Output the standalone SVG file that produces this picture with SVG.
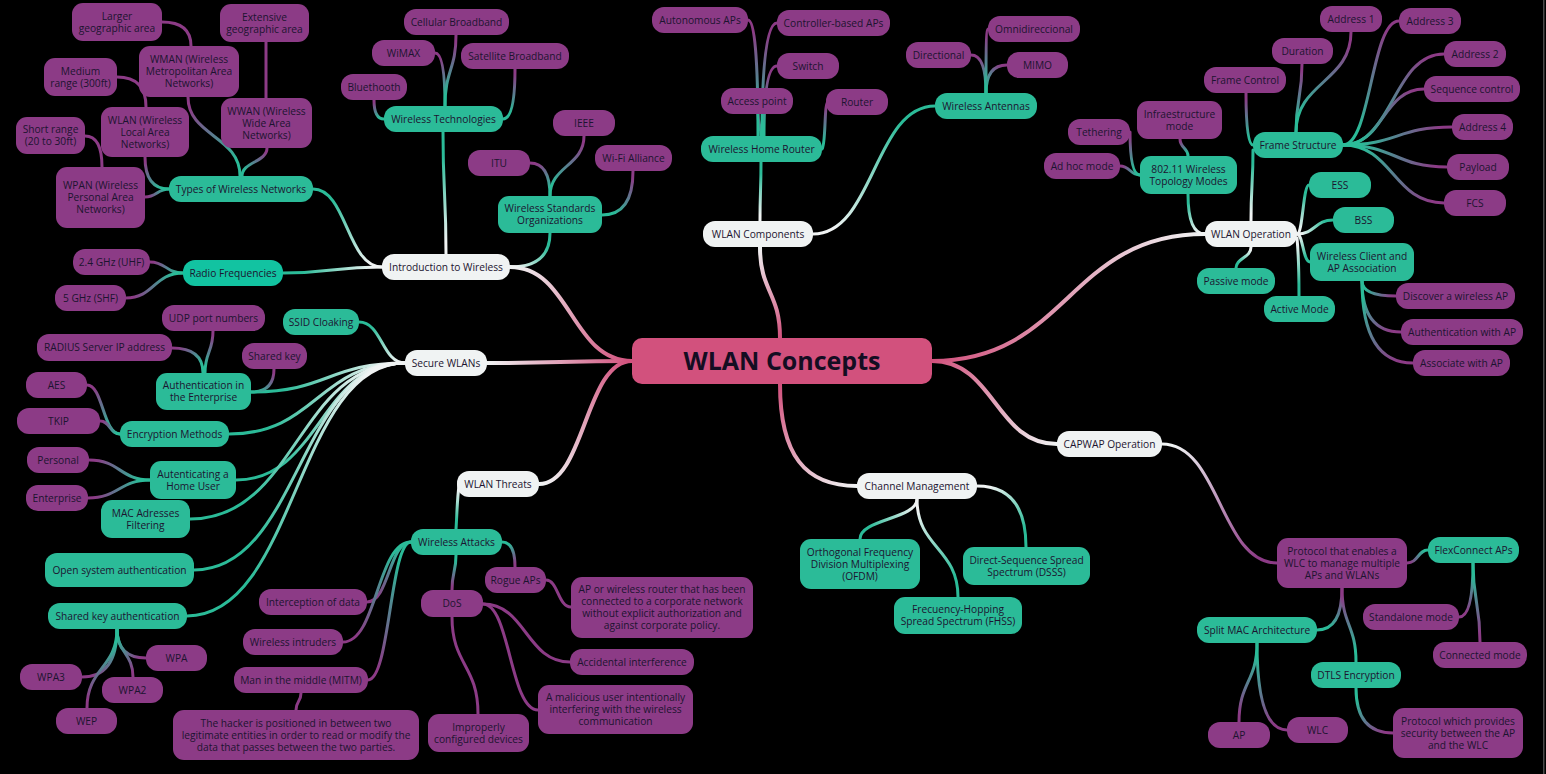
<svg xmlns="http://www.w3.org/2000/svg" width="1546" height="774" viewBox="0 0 1546 774">
<style>
#links path{fill:none;stroke-width:3;stroke-linecap:round}
#links path.m{stroke-width:4}
#links path.pp{stroke:#8c3b86}
.t rect{fill:#2bbb98}
.r rect{fill:#12c3a1}
.p rect{fill:#8c3b86}
.w rect{fill:#f0f3f3}
.c rect{fill:#d2517d}
text{font-family:"Open Sans","Noto Sans",sans-serif;font-size:10.2px;fill:#1c1430;text-anchor:middle}
.c text{font-size:25px;font-weight:bold;fill:#140d22}
</style>
<defs>
<linearGradient id="PW" gradientUnits="userSpaceOnUse"><stop offset="0" stop-color="#d2517d"/><stop offset="1" stop-color="#f0f3f3"/></linearGradient>
<linearGradient id="WT" gradientUnits="userSpaceOnUse"><stop offset="0.1" stop-color="#f0f3f3"/><stop offset="0.8" stop-color="#2bbb98"/></linearGradient>
<linearGradient id="WP" gradientUnits="userSpaceOnUse"><stop offset="0.05" stop-color="#f0f3f3"/><stop offset="0.9" stop-color="#8c3b86"/></linearGradient>
<linearGradient id="TP" gradientUnits="userSpaceOnUse"><stop offset="0.15" stop-color="#2bbb98"/><stop offset="0.9" stop-color="#8c3b86"/></linearGradient>
<linearGradient id="PT" gradientUnits="userSpaceOnUse"><stop offset="0.1" stop-color="#8c3b86"/><stop offset="0.85" stop-color="#2bbb98"/></linearGradient>
<linearGradient id="c1" href="#PW" x1="632" y1="361" x2="510" y2="267"/>
<linearGradient id="c2" href="#PW" x1="632" y1="361" x2="487" y2="363"/>
<linearGradient id="c3" href="#PW" x1="632" y1="361" x2="539" y2="484"/>
<linearGradient id="c4" href="#PW" x1="780" y1="338" x2="760" y2="247"/>
<linearGradient id="c5" href="#PW" x1="780" y1="384" x2="857" y2="486"/>
<linearGradient id="c6" href="#PW" x1="932" y1="361" x2="1205" y2="234"/>
<linearGradient id="c7" href="#PW" x1="932" y1="361" x2="1057" y2="444"/>
<linearGradient id="d1" href="#WT" x1="382" y1="267" x2="313" y2="189"/>
<linearGradient id="d2" href="#WT" x1="382" y1="267" x2="283" y2="273"/>
<linearGradient id="d3" href="#WT" x1="446" y1="254" x2="443" y2="132"/>
<linearGradient id="d4" href="#WT" x1="510" y1="267" x2="550" y2="233"/>
<linearGradient id="d5" href="#WT" x1="760" y1="221" x2="761" y2="162"/>
<linearGradient id="d6" href="#WT" x1="813" y1="234" x2="935" y2="106"/>
<linearGradient id="d7" href="#WT" x1="1205" y1="234" x2="1188" y2="194"/>
<linearGradient id="d8" href="#WT" x1="1251" y1="221" x2="1253" y2="150"/>
<linearGradient id="d9" href="#WT" x1="1297" y1="234" x2="1309" y2="185"/>
<linearGradient id="d10" href="#WT" x1="1297" y1="234" x2="1333" y2="220"/>
<linearGradient id="d11" href="#WT" x1="1297" y1="234" x2="1310" y2="262"/>
<linearGradient id="d12" href="#WT" x1="1251" y1="247" x2="1236" y2="268"/>
<linearGradient id="d13" href="#WT" x1="1297" y1="238" x2="1299" y2="296"/>
<linearGradient id="d14" href="#WT" x1="405" y1="363" x2="359" y2="322"/>
<linearGradient id="d15" href="#WT" x1="405" y1="363" x2="251" y2="392"/>
<linearGradient id="d16" href="#WT" x1="405" y1="363" x2="229" y2="434"/>
<linearGradient id="d17" href="#WT" x1="405" y1="363" x2="236" y2="480"/>
<linearGradient id="d18" href="#WT" x1="405" y1="363" x2="190" y2="519"/>
<linearGradient id="d19" href="#WT" x1="405" y1="363" x2="194" y2="570"/>
<linearGradient id="d20" href="#WT" x1="405" y1="363" x2="187" y2="616"/>
<linearGradient id="d21" href="#WT" x1="459" y1="486" x2="456" y2="529"/>
<linearGradient id="d22" href="#WT" x1="917" y1="499" x2="860" y2="539"/>
<linearGradient id="d23" href="#WT" x1="917" y1="499" x2="958" y2="597"/>
<linearGradient id="d24" href="#WT" x1="977" y1="486" x2="1026" y2="547"/>
<linearGradient id="e1" href="#WP" x1="1162" y1="444" x2="1277" y2="563"/>
<linearGradient id="f1" href="#PT" x1="1407" y1="563" x2="1428" y2="550"/>
<linearGradient id="f2" href="#PT" x1="1342" y1="588" x2="1317" y2="630"/>
<linearGradient id="f3" href="#PT" x1="1342" y1="588" x2="1356" y2="662"/>
<linearGradient id="g1" href="#TP" x1="169" y1="189" x2="145" y2="197"/>
<linearGradient id="g2" href="#TP" x1="169" y1="189" x2="145" y2="157"/>
<linearGradient id="g3" href="#TP" x1="240" y1="176" x2="188" y2="97"/>
<linearGradient id="g4" href="#TP" x1="242" y1="176" x2="267" y2="148"/>
<linearGradient id="g5" href="#TP" x1="183" y1="273" x2="150" y2="262"/>
<linearGradient id="g6" href="#TP" x1="183" y1="273" x2="126" y2="298"/>
<linearGradient id="g7" href="#TP" x1="384" y1="119" x2="374" y2="100"/>
<linearGradient id="g8" href="#TP" x1="445" y1="106" x2="435" y2="53"/>
<linearGradient id="g9" href="#TP" x1="445" y1="106" x2="456" y2="35"/>
<linearGradient id="g10" href="#TP" x1="503" y1="119" x2="515" y2="69"/>
<linearGradient id="g11" href="#TP" x1="550" y1="196" x2="530" y2="163"/>
<linearGradient id="g12" href="#TP" x1="550" y1="196" x2="584" y2="136"/>
<linearGradient id="g13" href="#TP" x1="602" y1="215" x2="633" y2="171"/>
<linearGradient id="g14" href="#TP" x1="761" y1="136" x2="758" y2="114"/>
<linearGradient id="g15" href="#TP" x1="758" y1="136" x2="748" y2="20"/>
<linearGradient id="g16" href="#TP" x1="762" y1="136" x2="777" y2="23"/>
<linearGradient id="g17" href="#TP" x1="764" y1="136" x2="777" y2="66"/>
<linearGradient id="g18" href="#TP" x1="822" y1="149" x2="828" y2="102"/>
<linearGradient id="g19" href="#TP" x1="986" y1="93" x2="971" y2="55"/>
<linearGradient id="g20" href="#TP" x1="986" y1="93" x2="988" y2="29"/>
<linearGradient id="g21" href="#TP" x1="986" y1="93" x2="1007" y2="65"/>
<linearGradient id="g22" href="#TP" x1="1188" y1="156" x2="1180" y2="139"/>
<linearGradient id="g23" href="#TP" x1="1140" y1="175" x2="1130" y2="132"/>
<linearGradient id="g24" href="#TP" x1="1140" y1="175" x2="1120" y2="166"/>
<linearGradient id="g25" href="#TP" x1="1253" y1="145" x2="1246" y2="93"/>
<linearGradient id="g26" href="#TP" x1="1296" y1="132" x2="1302" y2="64"/>
<linearGradient id="g27" href="#TP" x1="1296" y1="132" x2="1351" y2="32"/>
<linearGradient id="g28" href="#TP" x1="1343" y1="145" x2="1399" y2="21"/>
<linearGradient id="g29" href="#TP" x1="1343" y1="145" x2="1444" y2="54"/>
<linearGradient id="g30" href="#TP" x1="1343" y1="145" x2="1424" y2="89"/>
<linearGradient id="g31" href="#TP" x1="1343" y1="145" x2="1452" y2="127"/>
<linearGradient id="g32" href="#TP" x1="1343" y1="145" x2="1447" y2="167"/>
<linearGradient id="g33" href="#TP" x1="1343" y1="145" x2="1444" y2="203"/>
<linearGradient id="g34" href="#TP" x1="1362" y1="281" x2="1396" y2="296"/>
<linearGradient id="g35" href="#TP" x1="1362" y1="281" x2="1401" y2="332"/>
<linearGradient id="g36" href="#TP" x1="1362" y1="281" x2="1413" y2="363"/>
<linearGradient id="g37" href="#TP" x1="205" y1="373" x2="213" y2="331"/>
<linearGradient id="g38" href="#TP" x1="203" y1="373" x2="172" y2="348"/>
<linearGradient id="g39" href="#TP" x1="251" y1="392" x2="274" y2="369"/>
<linearGradient id="g40" href="#TP" x1="120" y1="434" x2="87" y2="385"/>
<linearGradient id="g41" href="#TP" x1="120" y1="434" x2="100" y2="421"/>
<linearGradient id="g42" href="#TP" x1="150" y1="480" x2="89" y2="460"/>
<linearGradient id="g43" href="#TP" x1="150" y1="480" x2="88" y2="498"/>
<linearGradient id="g44" href="#TP" x1="117" y1="629" x2="146" y2="658"/>
<linearGradient id="g45" href="#TP" x1="117" y1="629" x2="82" y2="677"/>
<linearGradient id="g46" href="#TP" x1="117" y1="629" x2="133" y2="677"/>
<linearGradient id="g47" href="#TP" x1="117" y1="629" x2="87" y2="708"/>
<linearGradient id="g48" href="#TP" x1="502" y1="542" x2="515" y2="567"/>
<linearGradient id="g49" href="#TP" x1="411" y1="542" x2="367" y2="602"/>
<linearGradient id="g50" href="#TP" x1="411" y1="542" x2="343" y2="642"/>
<linearGradient id="g51" href="#TP" x1="411" y1="542" x2="368" y2="680"/>
<linearGradient id="g52" href="#TP" x1="456" y1="555" x2="452" y2="590"/>
<linearGradient id="g53" href="#TP" x1="1473" y1="563" x2="1459" y2="617"/>
<linearGradient id="g54" href="#TP" x1="1473" y1="563" x2="1480" y2="642"/>
<linearGradient id="g55" href="#TP" x1="1257" y1="643" x2="1239" y2="722"/>
<linearGradient id="g56" href="#TP" x1="1257" y1="643" x2="1287" y2="730"/>
<linearGradient id="g57" href="#TP" x1="1356" y1="688" x2="1393" y2="733"/>
</defs>
<rect width="1546" height="774" fill="#000"/>
<rect x="1543" y="0" width="1.5" height="774" fill="#4a4a4a"/>
<g id="links">
<path class="m" stroke="url(#c1)" d="M632 361 C571 361 571 267 510 267"/>
<path class="m" stroke="url(#c2)" d="M632 361 C560 361 560 363 487 363"/>
<path class="m" stroke="url(#c3)" d="M632 361 C585 361 585 484 539 484"/>
<path class="m" stroke="url(#c4)" d="M780 338 C780 292 760 292 760 247"/>
<path class="m" stroke="url(#c5)" d="M780 384 C780 455 805 486 857 486"/>
<path class="m" stroke="url(#c6)" d="M932 361 C1068 361 1068 234 1205 234"/>
<path class="m" stroke="url(#c7)" d="M932 361 C995 361 995 444 1057 444"/>
<path stroke="url(#d1)" d="M382 267 C347 267 347 189 313 189"/>
<path stroke="url(#d2)" d="M382 267 C332 267 332 273 283 273"/>
<path stroke="url(#d3)" d="M446 254 C446 193 443 193 443 132"/>
<path stroke="url(#d4)" d="M510 267 Q550 267 550 233"/>
<path stroke="url(#d5)" d="M760 221 C760 191 761 191 761 162"/>
<path stroke="url(#d6)" d="M813 234 C874 234 874 106 935 106"/>
<path stroke="url(#d7)" d="M1205 234 Q1188 234 1188 194"/>
<path stroke="url(#d8)" d="M1251 221 C1251 185 1253 185 1253 150"/>
<path stroke="url(#d9)" d="M1297 234 C1303 234 1303 185 1309 185"/>
<path stroke="url(#d10)" d="M1297 234 C1315 234 1315 220 1333 220"/>
<path stroke="url(#d11)" d="M1297 234 C1303 234 1303 262 1310 262"/>
<path stroke="url(#d12)" d="M1251 247 C1251 258 1236 258 1236 268"/>
<path stroke="url(#d13)" d="M1297 238 C1299 260 1299 275 1299 296"/>
<path stroke="url(#d14)" d="M405 363 C382 363 382 322 359 322"/>
<path stroke="url(#d15)" d="M405 363 C328 363 328 392 251 392"/>
<path stroke="url(#d16)" d="M405 363 C317 363 317 434 229 434"/>
<path stroke="url(#d17)" d="M405 363 C320 363 320 480 236 480"/>
<path stroke="url(#d18)" d="M405 363 C297 363 297 519 190 519"/>
<path stroke="url(#d19)" d="M405 363 C299 363 299 570 194 570"/>
<path stroke="url(#d20)" d="M405 363 C296 363 296 616 187 616"/>
<path stroke="url(#d21)" d="M459 486 C457 500 457 515 456 529"/>
<path stroke="url(#d22)" d="M917 499 C917 519 860 519 860 539"/>
<path stroke="url(#d23)" d="M917 499 C917 548 958 548 958 597"/>
<path stroke="url(#d24)" d="M977 486 Q1026 486 1026 547"/>
<path stroke="url(#e1)" d="M1162 444 C1220 444 1220 563 1277 563"/>
<path stroke="url(#f1)" d="M1407 563 C1418 563 1418 550 1428 550"/>
<path stroke="url(#f2)" d="M1342 588 Q1342 630 1317 630"/>
<path stroke="url(#f3)" d="M1342 588 C1342 625 1356 625 1356 662"/>
<path stroke="url(#g1)" d="M169 189 C157 189 157 197 145 197"/>
<path stroke="url(#g2)" d="M169 189 Q145 189 145 157"/>
<path stroke="url(#g3)" d="M240 176 C240 136 188 136 188 97"/>
<path stroke="url(#g4)" d="M242 176 C242 162 267 162 267 148"/>
<path stroke="url(#g5)" d="M183 273 C166 273 166 262 150 262"/>
<path stroke="url(#g6)" d="M183 273 C154 273 154 298 126 298"/>
<path stroke="url(#g7)" d="M384 119 Q374 119 374 100"/>
<path stroke="url(#g8)" d="M445 106 Q445 53 435 53"/>
<path stroke="url(#g9)" d="M445 106 C445 70 456 70 456 35"/>
<path stroke="url(#g10)" d="M503 119 Q515 119 515 69"/>
<path stroke="url(#g11)" d="M550 196 Q550 163 530 163"/>
<path stroke="url(#g12)" d="M550 196 C550 166 584 166 584 136"/>
<path stroke="url(#g13)" d="M602 215 Q633 215 633 171"/>
<path stroke="url(#g14)" d="M761 136 C761 125 758 125 758 114"/>
<path stroke="url(#g15)" d="M758 136 Q758 20 748 20"/>
<path stroke="url(#g16)" d="M762 136 Q762 23 777 23"/>
<path stroke="url(#g17)" d="M764 136 Q764 66 777 66"/>
<path stroke="url(#g18)" d="M822 149 C826 145 824 102 828 102"/>
<path stroke="url(#g19)" d="M986 93 Q986 55 971 55"/>
<path stroke="url(#g20)" d="M986 93 C986 60 986 29 988 29"/>
<path stroke="url(#g21)" d="M986 93 Q986 65 1007 65"/>
<path stroke="url(#g22)" d="M1188 156 C1188 148 1180 148 1180 139"/>
<path stroke="url(#g23)" d="M1140 175 Q1130 175 1130 132"/>
<path stroke="url(#g24)" d="M1140 175 C1130 175 1130 166 1120 166"/>
<path stroke="url(#g25)" d="M1253 145 Q1246 145 1246 93"/>
<path stroke="url(#g26)" d="M1296 132 C1296 98 1302 98 1302 64"/>
<path stroke="url(#g27)" d="M1296 132 C1296 82 1351 82 1351 32"/>
<path stroke="url(#g28)" d="M1343 145 C1371 145 1371 21 1399 21"/>
<path stroke="url(#g29)" d="M1343 145 C1393 145 1393 54 1444 54"/>
<path stroke="url(#g30)" d="M1343 145 C1383 145 1383 89 1424 89"/>
<path stroke="url(#g31)" d="M1343 145 C1397 145 1397 127 1452 127"/>
<path stroke="url(#g32)" d="M1343 145 C1395 145 1395 167 1447 167"/>
<path stroke="url(#g33)" d="M1343 145 C1393 145 1393 203 1444 203"/>
<path stroke="url(#g34)" d="M1362 281 Q1362 296 1396 296"/>
<path stroke="url(#g35)" d="M1362 281 Q1362 332 1401 332"/>
<path stroke="url(#g36)" d="M1362 281 Q1362 363 1413 363"/>
<path stroke="url(#g37)" d="M205 373 C205 352 213 352 213 331"/>
<path stroke="url(#g38)" d="M203 373 Q203 348 172 348"/>
<path stroke="url(#g39)" d="M251 392 Q274 392 274 369"/>
<path stroke="url(#g40)" d="M120 434 C103 434 103 385 87 385"/>
<path stroke="url(#g41)" d="M120 434 C110 434 110 421 100 421"/>
<path stroke="url(#g42)" d="M150 480 C120 480 120 460 89 460"/>
<path stroke="url(#g43)" d="M150 480 C119 480 119 498 88 498"/>
<path stroke="url(#g44)" d="M117 629 Q117 658 146 658"/>
<path stroke="url(#g45)" d="M117 629 Q117 677 82 677"/>
<path stroke="url(#g46)" d="M117 629 C117 653 133 653 133 677"/>
<path stroke="url(#g47)" d="M117 629 C117 668 87 668 87 708"/>
<path stroke="url(#g48)" d="M502 542 Q515 542 515 567"/>
<path stroke="url(#g49)" d="M411 542 C389 542 389 602 367 602"/>
<path stroke="url(#g50)" d="M411 542 C377 542 377 642 343 642"/>
<path stroke="url(#g51)" d="M411 542 C390 542 390 680 368 680"/>
<path stroke="url(#g52)" d="M456 555 C456 572 452 572 452 590"/>
<path stroke="url(#g53)" d="M1473 563 Q1473 617 1459 617"/>
<path stroke="url(#g54)" d="M1473 563 C1473 602 1480 602 1480 642"/>
<path stroke="url(#g55)" d="M1257 643 C1257 682 1239 682 1239 722"/>
<path stroke="url(#g56)" d="M1257 643 Q1257 730 1287 730"/>
<path stroke="url(#g57)" d="M1356 688 Q1356 733 1393 733"/>
<path class="pp" d="M102 167 Q102 136 85 136"/>
<path class="pp" d="M146 107 Q146 77 117 77"/>
<path class="pp" d="M191 46 Q191 22 162 22"/>
<path class="pp" d="M266 98 L266 42"/>
<path class="pp" d="M546 580 C558 580 558 607 571 607"/>
<path class="pp" d="M483 604 C526 604 526 662 570 662"/>
<path class="pp" d="M483 604 C510 604 510 710 538 710"/>
<path class="pp" d="M452 617 C452 665 478 665 478 714"/>
<path class="pp" d="M301 693 C301 702 296 701 296 710"/>
</g>
<g id="n-center" class="c"><rect x="632" y="338" width="300" height="46" rx="10"/><text x="782" y="370">WLAN Concepts</text></g>
<g id="n-intro" class="w"><rect x="382" y="254" width="128" height="26" rx="12"/><text x="446" y="270.7">Introduction to Wireless</text></g>
<g id="n-components" class="w"><rect x="703" y="221" width="110" height="26" rx="12"/><text x="758" y="237.7">WLAN Components</text></g>
<g id="n-operation" class="w"><rect x="1205" y="221" width="92" height="26" rx="12"/><text x="1251" y="237.7">WLAN Operation</text></g>
<g id="n-secure" class="w"><rect x="405" y="350" width="82" height="26" rx="12"/><text x="446" y="366.7">Secure WLANs</text></g>
<g id="n-threats" class="w"><rect x="457" y="471" width="82" height="26" rx="12"/><text x="498" y="487.7">WLAN Threats</text></g>
<g id="n-channel" class="w"><rect x="857" y="473" width="120" height="26" rx="12"/><text x="917" y="489.7">Channel Management</text></g>
<g id="n-capwap" class="w"><rect x="1057" y="431" width="105" height="26" rx="12"/><text x="1109.5" y="447.7">CAPWAP Operation</text></g>
<g id="n-types" class="t"><rect x="169" y="176" width="144" height="26" rx="12"/><text x="241" y="192.7">Types of Wireless Networks</text></g>
<g id="n-radio" class="r"><rect x="183" y="260" width="100" height="26" rx="12"/><text x="233" y="276.7">Radio Frequencies</text></g>
<g id="n-wtech" class="t"><rect x="384" y="106" width="119" height="26" rx="12"/><text x="443.5" y="122.7">Wireless Technologies</text></g>
<g id="n-wso" class="t"><rect x="498" y="196" width="104" height="37" rx="11"/><text x="550" y="212.2">Wireless Standards<tspan x="550" dy="12">Organizations</tspan></text></g>
<g id="n-whr" class="t"><rect x="701" y="136" width="121" height="26" rx="12"/><text x="761.5" y="152.7">Wireless Home Router</text></g>
<g id="n-want" class="t"><rect x="935" y="93" width="102" height="26" rx="12"/><text x="986" y="109.7">Wireless Antennas</text></g>
<g id="n-80211" class="t"><rect x="1140" y="156" width="97" height="38" rx="11"/><text x="1188.5" y="172.7">802.11 Wireless<tspan x="1188.5" dy="12">Topology Modes</tspan></text></g>
<g id="n-fs" class="t"><rect x="1253" y="132" width="90" height="26" rx="12"/><text x="1298" y="148.7">Frame Structure</text></g>
<g id="n-ess" class="t"><rect x="1309" y="172" width="62" height="26" rx="12"/><text x="1340" y="188.7">ESS</text></g>
<g id="n-bss" class="t"><rect x="1333" y="207" width="61" height="26" rx="12"/><text x="1363.5" y="223.7">BSS</text></g>
<g id="n-wcaa" class="t"><rect x="1310" y="243" width="104" height="38" rx="11"/><text x="1362" y="259.7">Wireless Client and<tspan x="1362" dy="12">AP Association</tspan></text></g>
<g id="n-passive" class="t"><rect x="1197" y="268" width="78" height="26" rx="12"/><text x="1236" y="284.7">Passive mode</text></g>
<g id="n-active" class="t"><rect x="1264" y="296" width="71" height="26" rx="12"/><text x="1299.5" y="312.7">Active Mode</text></g>
<g id="n-ssid" class="t"><rect x="283" y="309" width="76" height="26" rx="12"/><text x="321" y="325.7">SSID Cloaking</text></g>
<g id="n-aite" class="t"><rect x="156" y="373" width="95" height="37" rx="11"/><text x="203.5" y="389.2">Authentication in<tspan x="203.5" dy="12">the Enterprise</tspan></text></g>
<g id="n-enc" class="t"><rect x="120" y="421" width="109" height="26" rx="12"/><text x="174.5" y="437.7">Encryption Methods</text></g>
<g id="n-ahu" class="t"><rect x="150" y="461" width="86" height="38" rx="11"/><text x="193" y="477.7">Autenticating a<tspan x="193" dy="12">Home User</tspan></text></g>
<g id="n-mac" class="t"><rect x="101" y="500" width="89" height="38" rx="11"/><text x="145.5" y="516.7">MAC Adresses<tspan x="145.5" dy="12">Filtering</tspan></text></g>
<g id="n-open" class="t"><rect x="45" y="553" width="149" height="34" rx="12"/><text x="119.5" y="573.7">Open system authentication</text></g>
<g id="n-ska" class="t"><rect x="48" y="603" width="139" height="26" rx="12"/><text x="117.5" y="619.7">Shared key authentication</text></g>
<g id="n-wattacks" class="t"><rect x="411" y="529" width="91" height="26" rx="12"/><text x="456.5" y="545.7">Wireless Attacks</text></g>
<g id="n-ofdm" class="t"><rect x="800" y="539" width="120" height="50" rx="11"/><text x="860" y="555.7">Orthogonal Frequency<tspan x="860" dy="12">Division Multiplexing</tspan><tspan x="860" dy="12">(OFDM)</tspan></text></g>
<g id="n-fhss" class="t"><rect x="894" y="597" width="128" height="37" rx="11"/><text x="958" y="613.2">Frecuency-Hopping<tspan x="958" dy="12">Spread Spectrum (FHSS)</tspan></text></g>
<g id="n-dsss" class="t"><rect x="963" y="547" width="127" height="38" rx="11"/><text x="1026.5" y="563.7">Direct-Sequence Spread<tspan x="1026.5" dy="12">Spectrum (DSSS)</tspan></text></g>
<g id="n-flex" class="t"><rect x="1428" y="537" width="91" height="26" rx="12"/><text x="1473.5" y="553.7">FlexConnect APs</text></g>
<g id="n-split" class="t"><rect x="1197" y="617" width="120" height="26" rx="12"/><text x="1257" y="633.7">Split MAC Architecture</text></g>
<g id="n-dtls" class="t"><rect x="1311" y="662" width="90" height="26" rx="12"/><text x="1356" y="678.7">DTLS Encryption</text></g>
<g id="n-wpan" class="p"><rect x="56" y="167" width="89" height="61" rx="11"/><text x="100.5" y="189.2">WPAN (Wireless<tspan x="100.5" dy="12">Personal Area</tspan><tspan x="100.5" dy="12">Networks)</tspan></text></g>
<g id="n-short" class="p"><rect x="16" y="117" width="69" height="37" rx="11"/><text x="50.5" y="133.2">Short range<tspan x="50.5" dy="12">(20 to 30ft)</tspan></text></g>
<g id="n-wlan" class="p"><rect x="101" y="107" width="88" height="50" rx="11"/><text x="145" y="123.7">WLAN (Wireless<tspan x="145" dy="12">Local Area</tspan><tspan x="145" dy="12">Networks)</tspan></text></g>
<g id="n-medium" class="p"><rect x="44" y="58" width="73" height="38" rx="11"/><text x="80.5" y="74.7">Medium<tspan x="80.5" dy="12">range (300ft)</tspan></text></g>
<g id="n-wman" class="p"><rect x="139" y="46" width="100" height="51" rx="11"/><text x="189" y="63.2">WMAN (Wireless<tspan x="189" dy="12">Metropolitan Area</tspan><tspan x="189" dy="12">Networks)</tspan></text></g>
<g id="n-larger" class="p"><rect x="72" y="3" width="90" height="38" rx="11"/><text x="117" y="19.7">Larger<tspan x="117" dy="12">geographic area</tspan></text></g>
<g id="n-wwan" class="p"><rect x="221" y="98" width="91" height="50" rx="11"/><text x="266.5" y="114.7">WWAN (Wireless<tspan x="266.5" dy="12">Wide Area</tspan><tspan x="266.5" dy="12">Networks)</tspan></text></g>
<g id="n-extensive" class="p"><rect x="220" y="4" width="89" height="38" rx="11"/><text x="264.5" y="20.7">Extensive<tspan x="264.5" dy="12">geographic area</tspan></text></g>
<g id="n-24" class="p"><rect x="73" y="249" width="77" height="26" rx="12"/><text x="111.5" y="265.7">2.4 GHz (UHF)</text></g>
<g id="n-5" class="p"><rect x="55" y="285" width="71" height="26" rx="12"/><text x="90.5" y="301.7">5 GHz (SHF)</text></g>
<g id="n-bluethooth" class="p"><rect x="341" y="74" width="66" height="26" rx="12"/><text x="374" y="90.7">Bluethooth</text></g>
<g id="n-wimax" class="p"><rect x="372" y="40" width="63" height="26" rx="12"/><text x="403.5" y="56.7">WiMAX</text></g>
<g id="n-cellular" class="p"><rect x="404" y="9" width="105" height="26" rx="12"/><text x="456.5" y="25.7">Cellular Broadband</text></g>
<g id="n-satellite" class="p"><rect x="461" y="43" width="108" height="26" rx="12"/><text x="515" y="59.7">Satellite Broadband</text></g>
<g id="n-itu" class="p"><rect x="468" y="150" width="62" height="26" rx="12"/><text x="499" y="166.7">ITU</text></g>
<g id="n-ieee" class="p"><rect x="553" y="110" width="62" height="26" rx="12"/><text x="584" y="126.7">IEEE</text></g>
<g id="n-wifi" class="p"><rect x="595" y="145" width="77" height="26" rx="12"/><text x="633.5" y="161.7">Wi-Fi Alliance</text></g>
<g id="n-accesspoint" class="p"><rect x="721" y="88" width="72" height="26" rx="12"/><text x="757" y="104.7">Access point</text></g>
<g id="n-router" class="p"><rect x="826" y="89" width="62" height="26" rx="12"/><text x="857" y="105.7">Router</text></g>
<g id="n-autonomous" class="p"><rect x="652" y="7" width="96" height="26" rx="12"/><text x="700" y="23.7">Autonomous APs</text></g>
<g id="n-controller" class="p"><rect x="777" y="10" width="113" height="26" rx="12"/><text x="833.5" y="26.7">Controller-based APs</text></g>
<g id="n-switch" class="p"><rect x="777" y="53" width="62" height="26" rx="12"/><text x="808" y="69.7">Switch</text></g>
<g id="n-directional" class="p"><rect x="906" y="42" width="65" height="26" rx="12"/><text x="938.5" y="58.7">Directional</text></g>
<g id="n-omni" class="p"><rect x="988" y="16" width="92" height="26" rx="12"/><text x="1034" y="32.7">Omnidireccional</text></g>
<g id="n-mimo" class="p"><rect x="1007" y="52" width="61" height="26" rx="12"/><text x="1037.5" y="68.7">MIMO</text></g>
<g id="n-infra" class="p"><rect x="1137" y="101" width="85" height="38" rx="11"/><text x="1179.5" y="117.7">Infraestructure<tspan x="1179.5" dy="12">mode</tspan></text></g>
<g id="n-tethering" class="p"><rect x="1068" y="119" width="62" height="26" rx="12"/><text x="1099" y="135.7">Tethering</text></g>
<g id="n-adhoc" class="p"><rect x="1044" y="153" width="76" height="26" rx="12"/><text x="1082" y="169.7">Ad hoc mode</text></g>
<g id="n-framecontrol" class="p"><rect x="1204" y="67" width="82" height="26" rx="12"/><text x="1245" y="83.7">Frame Control</text></g>
<g id="n-duration" class="p"><rect x="1272" y="38" width="61" height="26" rx="12"/><text x="1302.5" y="54.7">Duration</text></g>
<g id="n-address1" class="p"><rect x="1320" y="6" width="62" height="26" rx="12"/><text x="1351" y="22.7">Address 1</text></g>
<g id="n-address3" class="p"><rect x="1399" y="8" width="62" height="26" rx="12"/><text x="1430" y="24.7">Address 3</text></g>
<g id="n-address2" class="p"><rect x="1444" y="41" width="62" height="26" rx="12"/><text x="1475" y="57.7">Address 2</text></g>
<g id="n-seq" class="p"><rect x="1424" y="76" width="96" height="26" rx="12"/><text x="1472" y="92.7">Sequence control</text></g>
<g id="n-address4" class="p"><rect x="1452" y="114" width="61" height="26" rx="12"/><text x="1482.5" y="130.7">Address 4</text></g>
<g id="n-payload" class="p"><rect x="1447" y="154" width="62" height="26" rx="12"/><text x="1478" y="170.7">Payload</text></g>
<g id="n-fcs" class="p"><rect x="1444" y="190" width="62" height="26" rx="12"/><text x="1475" y="206.7">FCS</text></g>
<g id="n-discover" class="p"><rect x="1396" y="283" width="119" height="26" rx="12"/><text x="1455.5" y="299.7">Discover a wireless AP</text></g>
<g id="n-authap" class="p"><rect x="1401" y="319" width="122" height="26" rx="12"/><text x="1462" y="335.7">Authentication with AP</text></g>
<g id="n-assoc" class="p"><rect x="1413" y="350" width="97" height="26" rx="12"/><text x="1461.5" y="366.7">Associate with AP</text></g>
<g id="n-udp" class="p"><rect x="162" y="305" width="103" height="26" rx="12"/><text x="213.5" y="321.7">UDP port numbers</text></g>
<g id="n-radius" class="p"><rect x="37" y="334" width="135" height="27" rx="12"/><text x="104.5" y="351.2">RADIUS Server IP address</text></g>
<g id="n-sharedkey" class="p"><rect x="242" y="343" width="65" height="26" rx="12"/><text x="274.5" y="359.7">Shared key</text></g>
<g id="n-aes" class="p"><rect x="26" y="372" width="61" height="26" rx="12"/><text x="56.5" y="388.7">AES</text></g>
<g id="n-tkip" class="p"><rect x="17" y="408" width="83" height="26" rx="12"/><text x="58.5" y="424.7">TKIP</text></g>
<g id="n-personal" class="p"><rect x="27" y="447" width="62" height="26" rx="12"/><text x="58" y="463.7">Personal</text></g>
<g id="n-enterprise" class="p"><rect x="26" y="485" width="62" height="26" rx="12"/><text x="57" y="501.7">Enterprise</text></g>
<g id="n-wpa" class="p"><rect x="146" y="645" width="61" height="26" rx="12"/><text x="176.5" y="661.7">WPA</text></g>
<g id="n-wpa3" class="p"><rect x="20" y="664" width="62" height="26" rx="12"/><text x="51" y="680.7">WPA3</text></g>
<g id="n-wpa2" class="p"><rect x="102" y="677" width="61" height="26" rx="12"/><text x="132.5" y="693.7">WPA2</text></g>
<g id="n-wep" class="p"><rect x="56" y="708" width="61" height="26" rx="12"/><text x="86.5" y="724.7">WEP</text></g>
<g id="n-rogue" class="p"><rect x="485" y="567" width="61" height="26" rx="12"/><text x="515.5" y="583.7">Rogue APs</text></g>
<g id="n-apor" class="p"><rect x="571" y="577" width="182" height="61" rx="11"/><text x="662" y="593.2">AP or wireless router that has been<tspan x="662" dy="12">connected to a corporate network</tspan><tspan x="662" dy="12">without explicit authorization and</tspan><tspan x="662" dy="12">against corporate policy.</tspan></text></g>
<g id="n-dos" class="p"><rect x="421" y="590" width="62" height="27" rx="12"/><text x="452" y="607.2">DoS</text></g>
<g id="n-interception" class="p"><rect x="259" y="589" width="108" height="26" rx="12"/><text x="313" y="605.7">Interception of data</text></g>
<g id="n-intruders" class="p"><rect x="243" y="629" width="100" height="26" rx="12"/><text x="293" y="645.7">Wireless intruders</text></g>
<g id="n-mitm" class="p"><rect x="234" y="667" width="134" height="26" rx="12"/><text x="301" y="683.7">Man in the middle (MITM)</text></g>
<g id="n-hacker" class="p"><rect x="173" y="710" width="246" height="50" rx="11"/><text x="296" y="726.7">The hacker is positioned in between two<tspan x="296" dy="12">legitimate entities in order to read or modify the</tspan><tspan x="296" dy="12">data that passes between the two parties.</tspan></text></g>
<g id="n-accidental" class="p"><rect x="570" y="649" width="124" height="26" rx="12"/><text x="632" y="665.7">Accidental interference</text></g>
<g id="n-malicious" class="p"><rect x="538" y="685" width="155" height="49" rx="11"/><text x="615.5" y="701.2">A malicious user intentionally<tspan x="615.5" dy="12">interfering with the wireless</tspan><tspan x="615.5" dy="12">communication</tspan></text></g>
<g id="n-improperly" class="p"><rect x="428" y="714" width="101" height="38" rx="11"/><text x="478.5" y="730.7">Improperly<tspan x="478.5" dy="12">configured devices</tspan></text></g>
<g id="n-protocol" class="p"><rect x="1277" y="538" width="130" height="50" rx="11"/><text x="1342" y="554.7">Protocol that enables a<tspan x="1342" dy="12">WLC to manage multiple</tspan><tspan x="1342" dy="12">APs and WLANs</tspan></text></g>
<g id="n-standalone" class="p"><rect x="1363" y="604" width="96" height="26" rx="12"/><text x="1411" y="620.7">Standalone mode</text></g>
<g id="n-connected" class="p"><rect x="1433" y="642" width="94" height="26" rx="12"/><text x="1480" y="658.7">Connected mode</text></g>
<g id="n-ap" class="p"><rect x="1208" y="722" width="62" height="26" rx="12"/><text x="1239" y="738.7">AP</text></g>
<g id="n-wlc" class="p"><rect x="1287" y="717" width="61" height="26" rx="12"/><text x="1317.5" y="733.7">WLC</text></g>
<g id="n-protdtls" class="p"><rect x="1393" y="708" width="130" height="50" rx="11"/><text x="1458" y="724.7">Protocol which provides<tspan x="1458" dy="12">security between the AP</tspan><tspan x="1458" dy="12">and the WLC</tspan></text></g>
</svg>
